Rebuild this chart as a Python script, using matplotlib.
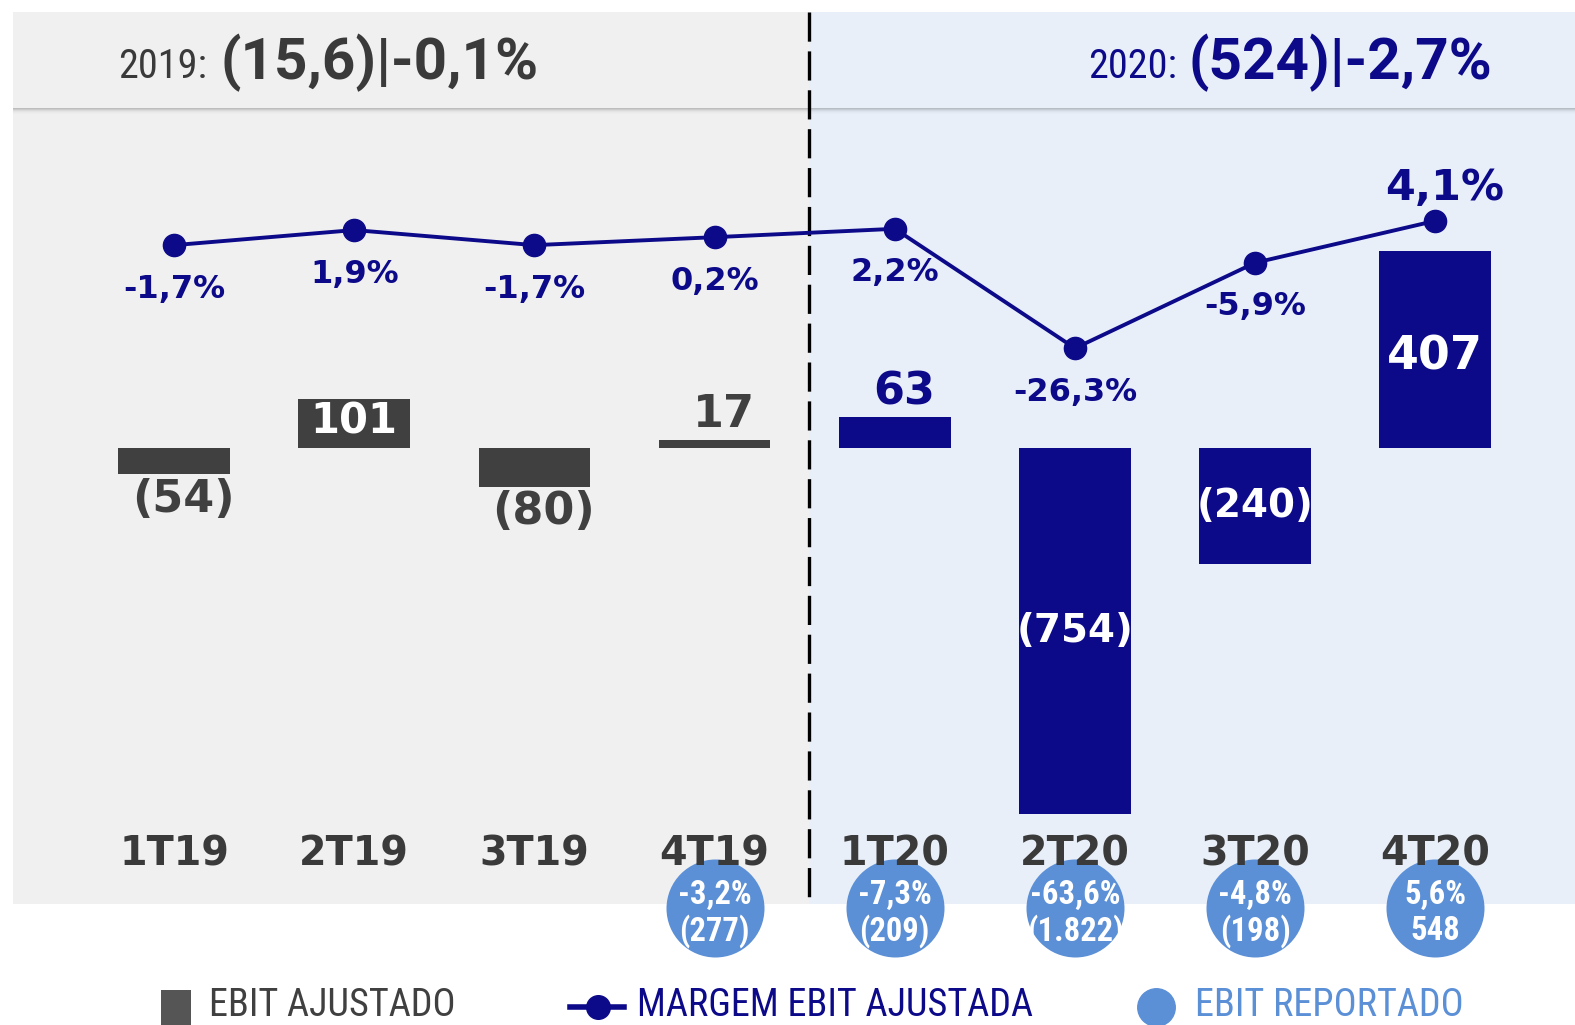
import matplotlib
matplotlib.use('Agg')
import matplotlib.pyplot as plt
from matplotlib import font_manager, transforms
from matplotlib.patches import Rectangle
from matplotlib.lines import Line2D

# ---------------- data ----------------
categories = ['1T19', '2T19', '3T19', '4T19', '1T20', '2T20', '3T20', '4T20']
ebit_ajustado = [-54, 101, -80, 17, 63, -754, -240, 407]
ebit_labels = ['(54)', '101', '(80)', '17', '63', '(754)', '(240)', '407']
margem = [-1.7, 1.9, -1.7, 0.2, 2.2, -26.3, -5.9, 4.1]
margem_labels = ['-1,7%', '1,9%', '-1,7%', '0,2%', '2,2%', '-26,3%', '-5,9%', '4,1%']
rep_categories = ['4T19', '1T20', '2T20', '3T20', '4T20']
rep_margem_labels = ['-3,2%', '-7,3%', '-63,6%', '-4,8%', '5,6%']
rep_ebit_labels = ['(277)', '(209)', '(1.822)', '(198)', '548']
year_labels = ['2019:', '2020:']
year_values = ['(15,6)|-0,1%', '(524)|-2,7%']

# ---------------- style ----------------
GRAY_BAR = '#404040'
NAVY = '#0d0a8a'
BUBBLE = '#5b8fd6'
TXT_GRAY = '#3a3a3a'
BG_GRAY = '#f0f0f0'
BG_BLUE = '#e8eff9'

names = {f.name for f in font_manager.fontManager.ttflist}
NARROW = 'DejaVu Sans'
for cand in ['Roboto Condensed', 'Liberation Sans Narrow', 'Open Sans Condensed',
             'DejaVu Sans Condensed', 'Liberation Sans']:
    if cand in names:
        NARROW = cand
        break
WIDE = 'Roboto' if 'Roboto' in names else NARROW

plt.rcParams['font.family'] = ['DejaVu Sans']
plt.rcParams['lines.scale_dashes'] = False

W, H = 1575, 1025
fig = plt.figure(figsize=(W / 100, H / 100), dpi=100)
fig.patch.set_facecolor('white')


def fx(x):
    return x / W


def fy(y):
    return 1 - y / H


# backgrounds
div_x = 809
top, bottom = 12, 904
fig.add_artist(Rectangle((fx(13), fy(bottom)), fx(div_x) - fx(13), fy(top) - fy(bottom),
                         transform=fig.transFigure, facecolor=BG_GRAY, edgecolor='none', zorder=-10))
fig.add_artist(Rectangle((fx(div_x), fy(bottom)), fx(W) - fx(div_x), fy(top) - fy(bottom),
                         transform=fig.transFigure, facecolor=BG_BLUE, edgecolor='none', zorder=-10))
# header shadow
for i, a in enumerate([0.35, 0.25, 0.15, 0.08, 0.04, 0.02]):
    fig.add_artist(Rectangle((fx(13), fy(109 + i)), fx(W) - fx(13), 1 / H,
                             transform=fig.transFigure, facecolor='#606060', alpha=a,
                             edgecolor='none', zorder=-9))

# dashed divider
fig.add_artist(Line2D([fx(div_x), fx(div_x)], [fy(top), fy(bottom)], transform=fig.transFigure,
                      color='black', lw=2.4, dashes=(21, 7), zorder=-5))

# axes
ax = fig.add_axes([0, 0, 1, 1])
ax.set_xlim(-0.966, 7.775)
ax.set_ylim(-1190, 924)
ax.axis('off')
ax2 = ax.twinx()
ax2.set_ylim(-187.8, 56.8)
ax2.axis('off')

x = list(range(len(categories)))
bar_colors = [GRAY_BAR] * 4 + [NAVY] * 4
ax.bar(x, ebit_ajustado, width=0.62, color=bar_colors, zorder=3)

# bar labels
modes = ['below', 'inside_top', 'below', 'above', 'above', 'mid', 'mid', 'mid']
sizes = [32, 30, 32, 32, 32, 28, 28, 33]
for i, (v, lab, m, fs) in enumerate(zip(ebit_ajustado, ebit_labels, modes, sizes)):
    col = bar_colors[i]
    if m == 'below':
        ax.annotate(lab, (i + 0.05, v), xytext=(0, -25), textcoords='offset pixels',
                    ha='center', va='center', fontsize=fs, fontweight='bold', color=col, zorder=5)
    elif m == 'above':
        ax.annotate(lab, (i + 0.05, v), xytext=(0, 25), textcoords='offset pixels',
                    ha='center', va='center', fontsize=fs, fontweight='bold', color=col, zorder=5)
    elif m == 'inside_top':
        ax.annotate(lab, (i, v), xytext=(0, -22), textcoords='offset pixels',
                    ha='center', va='center', fontsize=fs, fontweight='bold', color='white', zorder=5)
    else:
        ax.annotate(lab, (i, v / 2), xytext=(0, -8 if v > 0 else 0), textcoords='offset pixels',
                    ha='center', va='center', fontsize=fs, fontweight='bold', color='white', zorder=5)

# margin line
ax2.plot(x, margem, color=NAVY, lw=2.8, marker='o', markersize=16, zorder=6)
for i, (v, lab) in enumerate(zip(margem, margem_labels)):
    if i == len(margem) - 1:
        ax2.annotate(lab, (i + 0.05, v), xytext=(0, 33), textcoords='offset pixels',
                     ha='center', va='center', fontsize=31, fontweight='bold', color=NAVY, zorder=7)
    else:
        ax2.annotate(lab, (i, v), xytext=(0, -44), textcoords='offset pixels',
                     ha='center', va='center', fontsize=23, fontweight='bold', color=NAVY, zorder=7)

# bubbles (EBIT reportado)
blend = transforms.blended_transform_factory(ax.transData, fig.transFigure)
rx = [categories.index(c) for c in rep_categories]
ax.scatter(rx, [fy(908)] * len(rx), s=(98 * 0.72) ** 2, color=BUBBLE, transform=blend,
           zorder=8, linewidths=0)
for xi, m, e in zip(rx, rep_margem_labels, rep_ebit_labels):
    ax.text(xi, fy(895), m, transform=blend, ha='center', va='center', fontsize=23.5,
            fontweight='bold', family=NARROW, color='white', zorder=9)
    ax.text(xi, fy(931), e, transform=blend, ha='center', va='center', fontsize=23.5,
            fontweight='bold', family=NARROW, color='white', zorder=9)

# category labels
for i, c in enumerate(categories):
    ax.text(i, fy(866), c, transform=blend, ha='center', va='baseline', fontsize=28.5,
            fontweight='bold', color=TXT_GRAY, zorder=10)

# header texts
fig.text(fx(118), fy(78), year_labels[0], ha='left', va='baseline', fontsize=29,
         family=NARROW, color=TXT_GRAY)
fig.text(fx(221), fy(79), year_values[0], ha='left', va='baseline', fontsize=42,
         family=WIDE, fontweight='bold', color=TXT_GRAY)
fig.text(fx(1088), fy(78), year_labels[1], ha='left', va='baseline', fontsize=29,
         family=NARROW, color=NAVY)
fig.text(fx(1189), fy(79), year_values[1], ha='left', va='baseline', fontsize=42,
         family=WIDE, fontweight='bold', color=NAVY)

# legend (manual)
fig.add_artist(Rectangle((fx(161), fy(1025)), fx(191) - fx(161), fy(990) - fy(1025),
                         transform=fig.transFigure, facecolor='#555555', edgecolor='none'))
fig.text(fx(209), fy(1024), 'EBIT AJUSTADO', ha='left', va='bottom', fontsize=27.5,
         family=NARROW, color='#404040')
fig.add_artist(Line2D([fx(570), fx(624)], [fy(1007), fy(1007)], transform=fig.transFigure,
                      color=NAVY, lw=4))
fig.add_artist(Line2D([fx(598)], [fy(1007)], transform=fig.transFigure, color=NAVY,
                      marker='o', markersize=17, lw=0))
fig.text(fx(637), fy(1024), 'MARGEM EBIT AJUSTADA', ha='left', va='bottom', fontsize=27.5,
         family=NARROW, color=NAVY)
fig.add_artist(Line2D([fx(1156)], [fy(1007)], transform=fig.transFigure, color=BUBBLE,
                      marker='o', markersize=27, lw=0))
fig.text(fx(1195), fy(1024), 'EBIT REPORTADO', ha='left', va='bottom', fontsize=27.5,
         family=NARROW, color=BUBBLE)

fig.savefig('out.png', dpi=100)
